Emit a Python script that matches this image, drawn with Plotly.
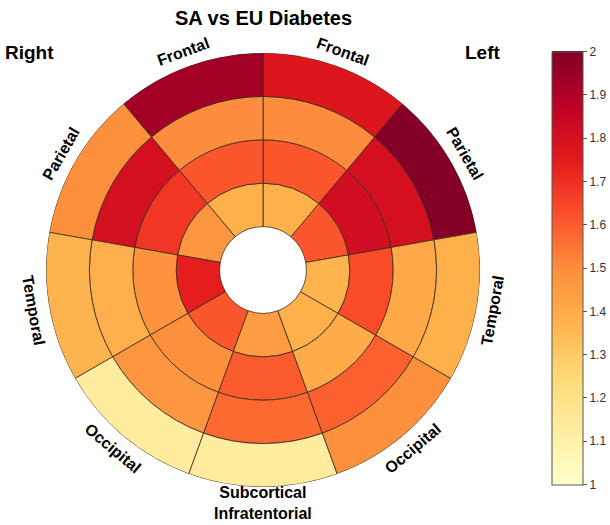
import numpy as np
import plotly.graph_objects as go
import plotly.express as px

# sectors go counter-clockwise starting at the Parietal (left) wedge
sectors = ["Parietal", "Frontal", "Frontal", "Parietal", "Temporal",
           "Occipital", "Subcortical<br>Infratentorial", "Occipital", "Temporal"]

# values per ring, inner -> outer, one entry per sector (same order as above)
ring1 = [1.61, 1.38, 1.38, 1.47, 1.74, 1.61, 1.45, 1.38, 1.37]
ring2 = [1.81, 1.61, 1.61, 1.68, 1.48, 1.49, 1.60, 1.40, 1.63]
ring3 = [1.80, 1.50, 1.50, 1.80, 1.39, 1.47, 1.57, 1.59, 1.41]
ring4 = [1.99, 1.77, 1.93, 1.49, 1.37, 1.13, 1.13, 1.49, 1.38]

cb_ticks = [1, 1.1, 1.2, 1.3, 1.4, 1.5, 1.6, 1.7, 1.8, 1.9, 2]

W, H = 610, 525
cx, cy, R = 263, 270, 217   # circle centre / radius in pixels

n = len(sectors)
step = 360 / n
thetas = [30 + step * i for i in range(n)]

theta, base, vals = [], [], []
for k, ring in enumerate([ring1, ring2, ring3, ring4]):
    theta += thetas
    base += [k + 1] * n
    vals += ring

fig = go.Figure(go.Barpolar(
    theta=theta,
    r=[1] * len(theta),
    base=base,
    width=[step] * len(theta),
    marker=dict(
        color=vals,
        colorscale=px.colors.sequential.YlOrRd,
        cmin=1, cmax=2,
        line=dict(color="#3a2a20", width=0.8),
        colorbar=dict(
            x=552 / W, xanchor="left", xpad=0,
            y=(H - 268) / H, yanchor="middle", ypad=0,
            len=433 / H, lenmode="fraction",
            thickness=31,
            outlinecolor="#555", outlinewidth=1,
            tickvals=cb_ticks, ticks="outside", ticklen=4,
            tickcolor="#555",
            tickfont=dict(family="Liberation Sans", size=12, color="#333"),
        ),
    ),
    hoverinfo="skip",
))

fig.update_layout(
    width=W, height=H,
    margin=dict(l=0, r=0, t=0, b=0, autoexpand=False),
    paper_bgcolor="white",
    showlegend=False,
    polar=dict(
        domain=dict(x=[(cx - R) / W, (cx + R) / W],
                    y=[(H - cy - R) / H, (H - cy + R) / H]),
        bgcolor="white",
        radialaxis=dict(range=[0, 5], visible=False),
        angularaxis=dict(visible=False, rotation=0, direction="counterclockwise"),
    ),
    font=dict(family="Liberation Sans", color="black"),
)

# region labels around the ring
lab_r = 233
for name, th in zip(sectors, thetas):
    a = np.deg2rad(th)
    px_x = cx + lab_r * np.cos(a)
    px_y = cy - lab_r * np.sin(a)
    ang = 90 - th if th < 180 else 270 - th
    fig.add_annotation(
        x=px_x / W, y=(H - px_y) / H, xref="paper", yref="paper",
        text="<b>%s</b>" % name, showarrow=False, textangle=ang,
        font=dict(size=16), xanchor="center", yanchor="middle",
    )

fig.add_annotation(x=263 / W, y=(H - 18) / H, xref="paper", yref="paper",
                   text="<b>SA vs EU Diabetes</b>", showarrow=False,
                   yanchor="middle", font=dict(size=20))
fig.add_annotation(x=3 / W, y=(H - 52) / H, xref="paper", yref="paper",
                   text="<b>Right</b>", showarrow=False, xanchor="left",
                   yanchor="middle", font=dict(size=19))
fig.add_annotation(x=503 / W, y=(H - 52) / H, xref="paper", yref="paper",
                   text="<b>Left</b>", showarrow=False, xanchor="right",
                   yanchor="middle", font=dict(size=19))

# page body has a default 8px margin; drop it so the figure fills the window
fig.write_html("out.html", config={"displayModeBar": False},
               post_script="document.body.style.margin='0';")
